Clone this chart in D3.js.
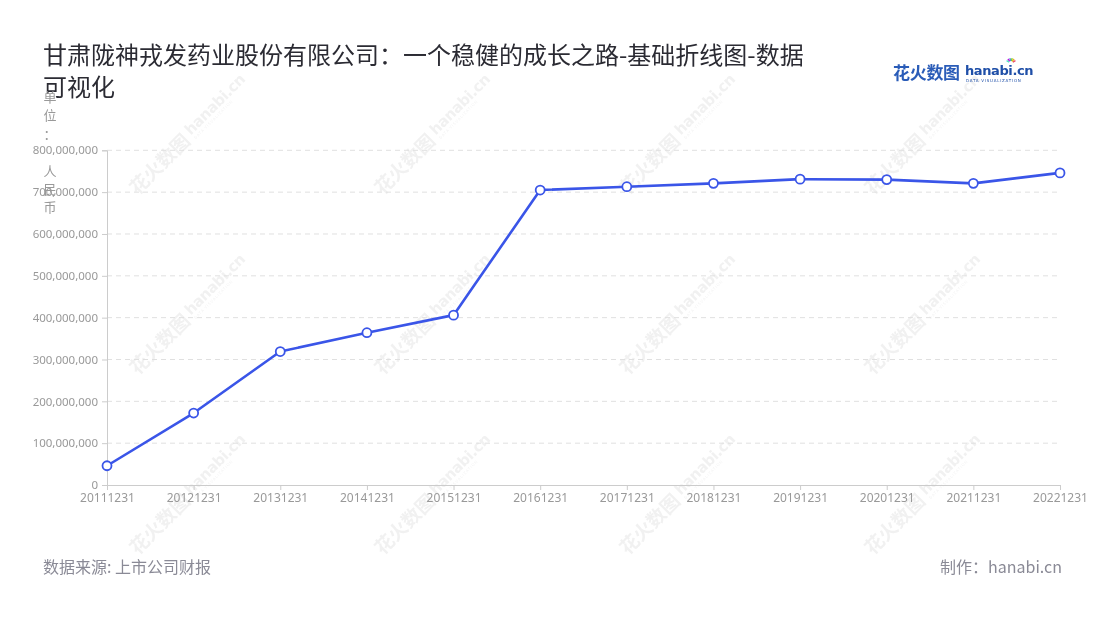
<!DOCTYPE html>
<html>
<head>
<meta charset="utf-8">
<script src="https://cdn.jsdelivr.net/npm/d3@7/dist/d3.min.js"></script>
<style>
  html, body { margin: 0; padding: 0; background: #fff; }
  svg { display: block; font-family: "Noto Sans CJK SC", "Noto Sans", sans-serif; }
</style>
</head>
<body>
<svg id="chart" width="1100" height="620"></svg>
<script>
// ---- data ----
const categories = ["20111231","20121231","20131231","20141231","20151231","20161231",
                    "20171231","20181231","20191231","20201231","20211231","20221231"];
const values = [46000000, 172000000, 319000000, 364000000, 406000000, 705000000,
                713000000, 721000000, 731000000, 730000000, 721000000, 746000000];
const yTicks = [0, 100000000, 200000000, 300000000, 400000000, 500000000, 600000000, 700000000, 800000000];
const titleLines = ["甘肃陇神戎发药业股份有限公司：一个稳健的成长之路-基础折线图-数据", "可视化"];
const unitChars = ["单", "位", "：", "", "人", "民", "币"];
const sourceText = "数据来源: 上市公司财报";
const creditText = "制作：hanabi.cn";

(function () {
const svg = d3.select("#chart");
const pLeft = 107, pRight = 1060, pTop = 150.3, pBottom = 485;

// watermarks
const wmLayer = svg.append("g").attr("opacity", 0.07);
[190, 435, 680, 925].forEach(cx => {
  [135, 315, 495].forEach(cy => {
    const g = wmLayer.append("g").attr("transform", `translate(${cx},${cy}) rotate(-45)`);
    g.append("text").attr("x", -4).attr("y", 6).attr("text-anchor", "end")
      .attr("font-size", 19).attr("font-weight", 700).attr("fill", "#333").text("花火数图");
    g.append("text").attr("x", 0).attr("y", 1).attr("text-anchor", "start")
      .attr("font-size", 15).attr("font-weight", 700).attr("fill", "#333")
      .attr("font-family", "'DejaVu Sans', sans-serif").attr("letter-spacing", -0.5).text("hanabi.cn");
    g.append("text").attr("x", 1).attr("y", 7).attr("text-anchor", "start")
      .attr("font-size", 4).attr("fill", "#333").attr("letter-spacing", 0.8).text("DATA VISUALIZATION");
  });
});

// scales
const x = d3.scalePoint().domain(categories).range([pLeft, pRight]);
const y = d3.scaleLinear().domain([0, 800000000]).range([pBottom, pTop]);

// grid lines
svg.append("g").selectAll("line").data(yTicks.filter(d => d > 0)).join("line")
  .attr("x1", pLeft).attr("x2", pRight)
  .attr("y1", d => y(d)).attr("y2", d => y(d))
  .attr("stroke", "#e0e0e0").attr("stroke-dasharray", "5,4").attr("stroke-width", 1);

// y axis
const yAxis = svg.append("g").attr("transform", `translate(${pLeft},0)`)
  .call(d3.axisLeft(y).tickValues(yTicks).tickSize(5).tickPadding(4)
        .tickFormat(d => d3.format(",")(d)));
yAxis.select(".domain").attr("stroke", "#ccc");
yAxis.selectAll(".tick line").attr("stroke", "#ccc");
yAxis.selectAll(".tick text").attr("fill", "#999").attr("font-size", 11.5)
  .attr("font-family", "'Noto Sans', sans-serif");

// x axis
const xAxis = svg.append("g").attr("transform", `translate(0,${pBottom})`)
  .call(d3.axisBottom(x).tickSize(5).tickPadding(3));
xAxis.select(".domain").attr("stroke", "#ccc").attr("d", `M${pLeft},0.5H${pRight}`);
xAxis.selectAll(".tick line").attr("stroke", "#ccc");
xAxis.selectAll(".tick text").attr("fill", "#999").attr("font-size", 12)
  .attr("font-family", "'Noto Sans', sans-serif");

// line
const line = d3.line().x((d, i) => x(categories[i])).y(d => y(d));
svg.append("path").datum(values).attr("d", line)
  .attr("fill", "none").attr("stroke", "#3a55e8").attr("stroke-width", 2.6)
  .attr("stroke-linejoin", "round");
svg.append("g").selectAll("circle").data(values).join("circle")
  .attr("cx", (d, i) => x(categories[i])).attr("cy", d => y(d)).attr("r", 4.5)
  .attr("fill", "#fff").attr("stroke", "#3a55e8").attr("stroke-width", 1.8);

// title
const title = svg.append("text").attr("x", 43).attr("y", 64)
  .attr("font-size", 24).attr("fill", "#2b2b33");
titleLines.forEach((t, i) => {
  title.append("tspan").attr("x", 43).attr("y", 64 + i * 32).text(t);
});

// unit label (vertical)
const unit = svg.append("g");
unitChars.forEach((c, i) => {
  unit.append("text").attr("x", 50).attr("y", 102 + i * 18.4)
    .attr("text-anchor", "middle").attr("font-size", 13).attr("fill", "#999").text(c);
});

// logo
const logo = svg.append("g");
logo.append("text").attr("x", 893).attr("y", 79).attr("font-size", 17).attr("font-weight", 700)
  .attr("fill", "#2a5cb8").attr("letter-spacing", -0.3).text("花火数图");
logo.append("text").attr("x", 965).attr("y", 75).attr("font-size", 13).attr("font-weight", 700)
  .attr("font-family", "'DejaVu Sans', sans-serif").attr("fill", "#1f4fa8")
  .attr("letter-spacing", -0.4).text("hanabi.cn");
logo.append("text").attr("x", 966).attr("y", 81.5).attr("font-size", 4)
  .attr("fill", "#1f4fa8").attr("letter-spacing", 0.75)
  .attr("font-family", "'DejaVu Sans', sans-serif").text("DATA VISUALIZATION");
const burstColors = ["#e94b6a", "#f5a623", "#7ed321", "#4a90e2", "#bd10e0", "#50e3c2"];
burstColors.forEach((c, i) => {
  const a = -Math.PI * (0.15 + i * 0.14);
  logo.append("line").attr("x1", 1011 + Math.cos(a) * 2).attr("y1", 63 + Math.sin(a) * 2)
    .attr("x2", 1011 + Math.cos(a) * 5).attr("y2", 63 + Math.sin(a) * 5)
    .attr("stroke", c).attr("stroke-width", 1.4);
});

// footer
svg.append("text").attr("x", 43).attr("y", 573).attr("font-size", 16)
  .attr("fill", "#8a8a96").text(sourceText);
svg.append("text").attr("x", 1062).attr("y", 573).attr("font-size", 16)
  .attr("text-anchor", "end").attr("fill", "#8a8a96").text(creditText);
})();
</script>
</body>
</html>
